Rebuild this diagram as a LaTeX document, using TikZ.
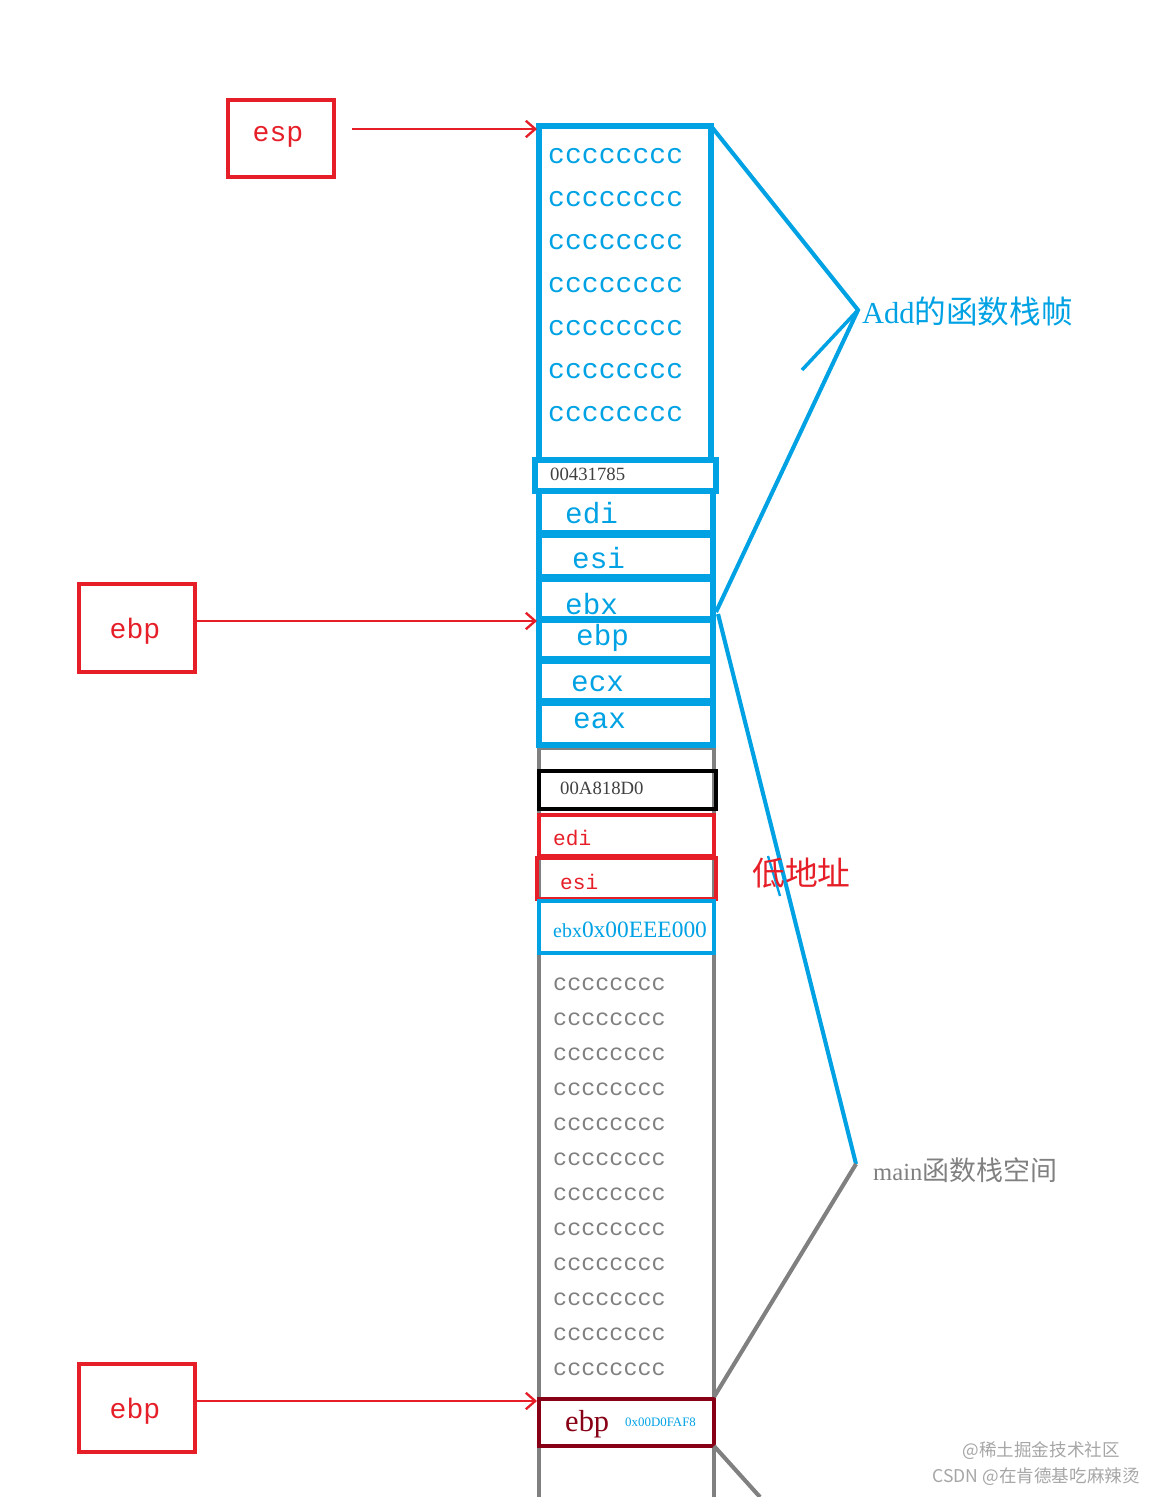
\documentclass[tikz,border=0pt]{standalone}
\usetikzlibrary{arrows.meta}
\usepackage{fontspec}
\setmainfont{Liberation Serif}
\newfontfamily\cjk{Noto Sans CJK SC}
\newfontfamily\mono{Liberation Mono}
\definecolor{bl}{RGB}{0,162,228}
\definecolor{rd}{RGB}{230,30,40}
\definecolor{drd}{RGB}{136,0,21}
\definecolor{gr}{RGB}{128,128,128}
\begin{document}
\begin{tikzpicture}[x=0.03cm,y=-0.03cm,
  bbox/.style={draw=bl,line width=4.5pt},
  rbox/.style={draw=rd,line width=3.5pt},
  lbl/.style={anchor=west,inner sep=0pt},
  reg/.style={lbl,text=bl,font=\mono\fontsize{25}{25}\selectfont},
  cc/.style={lbl,text=bl,font=\mono\fontsize{24}{24}\selectfont},
  gc/.style={lbl,text=gr,font=\mono\fontsize{20}{20}\selectfont},
  arr/.style={draw=rd,line width=2pt,-{Straight Barb[length=8pt,width=14pt]}}]
\useasboundingbox (0,0) rectangle (1156,1497);
% gray column
\draw[gr,line width=4pt] (539,745) -- (539,1497) (714,745) -- (714,1497);
\draw[gr,line width=4pt] (539,748) -- (714,748);
% blue frame
\draw[bbox] (539,126) rectangle (711,460);
\foreach \i in {0,...,6} \node[cc] (c\i) at (548,{156+43*\i}) {cccccccc};
\draw[bbox] (535,460) rectangle (716,491);
\node[lbl,font=\fontsize{16}{16}\selectfont,text=black!75] (r1) at (550,474) {00431785};
\draw[bbox] (539,491) rectangle (713,533) (539,535) rectangle (713,577) (539,579) rectangle (713,619)
 (539,620) rectangle (713,659) (539,661) rectangle (713,701) (539,703) rectangle (713,745);
\node[reg] (b1) at (565,513) {edi};
\node[reg] (b2) at (572,558) {esi};
\node[reg] (b3) at (565,604) {ebx};
\node[reg] (b4) at (576,638) {ebp};
\node[reg] (b5) at (571,684) {ecx};
\node[reg] (b6) at (573,721) {eax};
% main frame boxes
\draw[black,line width=3.5pt] (539,771) rectangle (716,809);
\node[lbl,font=\fontsize{16}{16}\selectfont,text=black!75] (m1) at (560,788) {00A818D0};
\draw[rbox] (539,815) rectangle (714,856) (537,858) rectangle (716,899);
\node[lbl,text=rd,font=\mono\fontsize{18}{18}\selectfont] (m2) at (553,838) {edi};
\node[lbl,text=rd,font=\mono\fontsize{18}{18}\selectfont] (m3) at (560,882) {esi};
\draw[bbox,line width=3.5pt] (539,901) rectangle (714,953);
\node[lbl,text=bl] (m4) at (553,930) {\fontsize{17}{17}\selectfont ebx\fontsize{20}{20}\selectfont 0x00EEE000};
\foreach \i in {0,...,11} \node[gc] (g\i) at (553,{984+35*\i}) {cccccccc};
\draw[drd,line width=4pt] (539,1399) rectangle (714,1446);
\node[lbl,text=drd,font=\fontsize{26}{26}\selectfont] (m5) at (565,1424) {ebp};
\node[lbl,text=bl,font=\fontsize{11}{11}\selectfont] (m6) at (625,1422) {0x00D0FAF8};
% left boxes
\draw[rbox] (228,100) rectangle (334,177) (79,584) rectangle (195,672) (79,1364) rectangle (195,1452);
\node[text=rd,font=\mono\fontsize{24}{24}\selectfont] (esp) at (278,137) {esp};
\node[text=rd,font=\mono\fontsize{24}{24}\selectfont] (ebp1) at (135,631) {ebp};
\node[text=rd,font=\mono\fontsize{24}{24}\selectfont] (ebp2) at (135,1411) {ebp};
\coordinate (t1) at (537,129); \coordinate (t2) at (537,621); \coordinate (t3) at (537,1401);
\draw[arr] (352,129) -- (t1);
\draw[arr] (197,621) -- (t2);
\draw[arr] (197,1401) -- (t3);
% braces
\coordinate (A) at (858,310); \coordinate (B) at (856,1164);
\draw[bl,line width=3.5pt] (711,126) -- (A) -- (716,612);
\draw[bl,line width=3pt] (802,370) -- (A);
\draw[bl,line width=3.5pt] (718,614) -- (B);
\draw[bl,line width=2pt] (768,856) -- (780,896);
\draw[gr,line width=3.5pt] (B) -- (714,1397);
\draw[gr,line width=3.5pt] (714,1446) -- (760,1497);
\node[lbl,text=bl,font=\fontsize{26}{26}\selectfont] (add) at (862,311) {Add{\cjk\fontsize{27}{27}\selectfont 的函数栈帧}};
\node[lbl,text=gr,font=\fontsize{21}{21}\selectfont] (main) at (873,1170) {main{\cjk\fontsize{23}{23}\selectfont 函数栈空间}};
\node[lbl,text=rd,font=\cjk\fontsize{28}{28}\selectfont] (low) at (752,873) {低地址};
\node[anchor=east,inner sep=0pt,text=gr!70,font=\cjk\fontsize{15}{15}\selectfont] (w1) at (1120,1451) {@稀土掘金技术社区};
\node[anchor=east,inner sep=0pt,text=gr!70,font=\cjk\fontsize{15}{15}\selectfont] (w2) at (1140,1477) {CSDN @在肯德基吃麻辣烫};
\end{tikzpicture}
\end{document}
